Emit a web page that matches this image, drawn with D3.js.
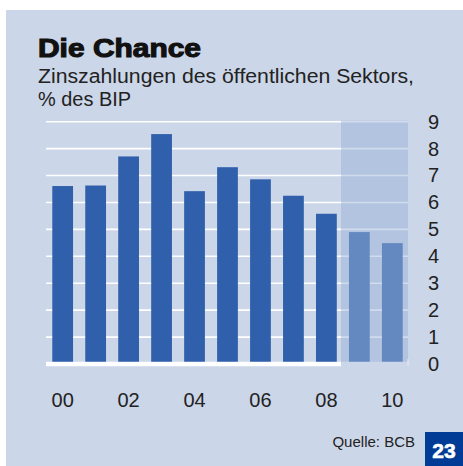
<!DOCTYPE html>
<html>
<head>
<meta charset="utf-8">
<script src="https://cdn.jsdelivr.net/npm/d3@7"></script>
<style>
  body { margin: 0; background: #fff; }
  text { font-family: "Liberation Sans", Arial, sans-serif; }
</style>
</head>
<body>
<svg id="chart" width="463" height="466"></svg>
<script>
// Zinszahlungen, % des BIP
var years = ["00","01","02","03","04","05","06","07","08","09","10"];
var values = [6.61, 6.63, 7.71, 8.54, 6.42, 7.31, 6.86, 6.25, 5.58, 4.90, 4.49];
var forecast = [false,false,false,false,false,false,false,false,false,true,true];
var yTicks = [0,1,2,3,4,5,6,7,8,9];
var xLabels = ["00","02","04","06","08","10"];

var svg = d3.select("#chart");

svg.append("rect")
  .attr("x", 6).attr("y", 10)
  .attr("width", 457).attr("height", 456)
  .attr("fill", "#cbd6e8");

// titles
svg.append("text")
  .attr("x", 38).attr("y", 57)
  .attr("font-size", 25).attr("font-weight", "bold")
  .attr("stroke", "#111").attr("stroke-width", 1.1)
  .attr("fill", "#111")
  .attr("textLength", 163).attr("lengthAdjust", "spacingAndGlyphs")
  .text("Die Chance");
svg.append("text")
  .attr("x", 38).attr("y", 83)
  .attr("font-size", 19.5).attr("fill", "#222")
  .attr("textLength", 376).attr("lengthAdjust", "spacingAndGlyphs")
  .text("Zinszahlungen des öffentlichen Sektors,");
svg.append("text")
  .attr("x", 38).attr("y", 106)
  .attr("font-size", 19.5).attr("fill", "#222")
  .attr("textLength", 93).attr("lengthAdjust", "spacingAndGlyphs")
  .text("% des BIP");

var y = d3.scaleLinear().domain([0, 9]).range([364, 121.7]);
var x = d3.scaleBand().domain(years).range([42.4, 412.6]).paddingInner(0.37).paddingOuter(0.3);

var g = svg.append("g");

// gridlines
g.selectAll(".grid")
  .data(yTicks.filter(function(d){ return d > 0; }))
  .enter().append("line")
  .attr("x1", 46).attr("x2", 408)
  .attr("y1", function(d){ return y(d); })
  .attr("y2", function(d){ return y(d); })
  .attr("stroke", "#fff").attr("stroke-width", 1.6);

// baseline only under actual values
g.append("line")
  .attr("x1", 46).attr("x2", 341)
  .attr("y1", 364).attr("y2", 364)
  .attr("stroke", "#fff").attr("stroke-width", 4.5);

// forecast shading
g.append("rect")
  .attr("x", 341).attr("y", y(9) - 1)
  .attr("width", 67).attr("height", 361.7 - y(9) + 1)
  .attr("fill", "#94add6").attr("opacity", 0.44);

g.append("line")
  .attr("x1", 408).attr("x2", 408)
  .attr("y1", 359).attr("y2", 366)
  .attr("stroke", "#e6ecf5").attr("stroke-width", 1);

// bars
g.selectAll(".bar")
  .data(values)
  .enter().append("rect")
  .attr("x", function(d, i){ return x(years[i]); })
  .attr("width", x.bandwidth())
  .attr("y", function(d){ return y(d); })
  .attr("height", function(d){ return 361.7 - y(d); })
  .attr("fill", function(d, i){ return forecast[i] ? "#6488c0" : "#3060ab"; });

// y axis labels on the right
var yAxis = d3.axisRight(y).tickValues(yTicks).tickSize(0).tickPadding(0);
var ya = svg.append("g").attr("transform", "translate(428,0)").call(yAxis);
ya.select(".domain").remove();
ya.selectAll("text")
  .attr("font-size", 20).attr("fill", "#222")
  .attr("font-family", "Liberation Sans, Arial, sans-serif");

// x labels
var xAxis = d3.axisBottom(x).tickValues(xLabels).tickSize(0).tickPadding(0);
var xa = svg.append("g").attr("transform", "translate(0,393)").call(xAxis);
xa.select(".domain").remove();
xa.selectAll("text")
  .attr("font-size", 20).attr("fill", "#222")
  .attr("font-family", "Liberation Sans, Arial, sans-serif");

// source + page number
svg.append("text")
  .attr("x", 415).attr("y", 447)
  .attr("text-anchor", "end")
  .attr("font-size", 15).attr("fill", "#222")
  .text("Quelle: BCB");
svg.append("rect")
  .attr("x", 425).attr("y", 432)
  .attr("width", 38).attr("height", 34)
  .attr("fill", "#003c96");
svg.append("text")
  .attr("x", 444).attr("y", 458)
  .attr("text-anchor", "middle")
  .attr("font-size", 21).attr("font-weight", "bold")
  .attr("stroke", "#fff").attr("stroke-width", 0.6)
  .attr("fill", "#fff")
  .text("23");
</script>
</body>
</html>
